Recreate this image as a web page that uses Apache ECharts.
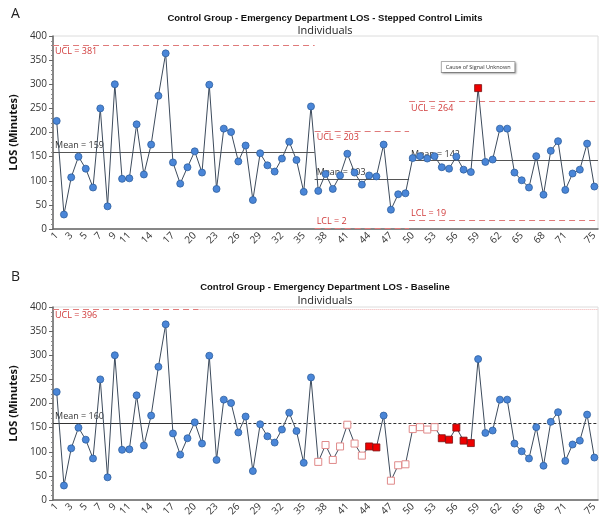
<!DOCTYPE html>
<html><head><meta charset="utf-8">
<script src="https://cdn.jsdelivr.net/npm/echarts@6/dist/echarts.min.js"></script>
<style>html,body{margin:0;padding:0;background:#fff}#c{width:600px;height:520px}</style>
</head><body><div id="c"></div>
<script>
// ---- data ----
const categories = Array.from({length:75},(_,i)=>String(i+1));
const losValues = [224,30,107,150,125,86,250,47,300,104,105,217,113,175,276,364,138,94,128,161,117,299,83,208,201,140,173,60,157,132,119,146,181,143,77,254,79,114,83,111,156,117,92,111,109,175,40,72,74,147,151,146,151,128,125,150,123,118,292,139,144,208,208,117,101,86,151,71,162,182,81,115,123,177,88];
const shownTickLabels = ['1','3','5','7','9','11','14','17','20','23','26','29','32','35','38','41','44','47','50','53','56','59','62','65','68','71','75'];
const yTicks = [0,50,100,150,200,250,300,350,400];
// Panel A stepped phases
const phaseStart = [1,37,50];
const phaseEnd = [36,49,75];
const phaseMean = [159,103,142];
const phaseUCL = [381,203,264];
const phaseLCL = [null,2,19];
const aSignalPoints = [59];
const aNote = 'Cause of Signal Unknown';
// Panel B baseline
const baseEnd = 20;
const baseMean = 160;
const baseUCL = 396;
const bHollowSignals = [37,38,39,40,41,42,43,47,48,49,50,51,52,53];
const bFilledSignals = [44,45,54,55,56,57,58];

// ---- styles ----
const BLUE = {color:'#4a86d8', borderColor:'#2f5f9e', borderWidth:0.8};
const RED = {color:'#ee0000', borderColor:'#7a1010', borderWidth:0.8};
const HOLLOW = {color:'#ffffff', borderColor:'#e08a8a', borderWidth:1};
const LIMIT = '#e07a7a', LIMTXT = '#d03a3a';

function pointData(panel){
  return losValues.map((v,i)=>{
    const n=i+1;
    if(panel==='A'){
      if(aSignalPoints.includes(n)) return {value:v, symbol:'rect', symbolSize:7, itemStyle:RED};
      return {value:v, symbol:'circle', symbolSize:7, itemStyle:BLUE};
    } else {
      if(bFilledSignals.includes(n)) return {value:v, symbol:'rect', symbolSize:7, itemStyle:RED};
      if(bHollowSignals.includes(n)) return {value:v, symbol:'rect', symbolSize:7, itemStyle:HOLLOW};
      return {value:v, symbol:'circle', symbolSize:7, itemStyle:BLUE};
    }
  });
}

function hline(x0,x1,y,color,type,label,pos){
  return [{coord:[x0,y], lineStyle:{color:color,type:type,width:1},
    label:label?{show:true,formatter:label,position:pos,color:(color===LIMIT||color==='#f0b0b0')?LIMTXT:'#333',fontSize:9,fontFamily:'Open Sans',distance:[2,2]}:{show:false}},
    {coord:[x1,y]}];
}

const aLines=[];
for(let k=0;k<phaseStart.length;k++){
  const x0=phaseStart[k]-0.5, x1=phaseEnd[k]+0.5;
  aLines.push(hline(x0,x1,phaseMean[k],'#555','solid','Mean = '+phaseMean[k],'insideStartTop'));
  aLines.push(hline(x0,x1,phaseUCL[k],LIMIT,[6,4],'UCL = '+phaseUCL[k],'insideStartBottom'));
  if(phaseLCL[k]!==null) aLines.push(hline(x0,x1,phaseLCL[k],LIMIT,[6,4],'LCL = '+phaseLCL[k],'insideStartTop'));
}
const bLines=[
  hline(0.5,baseEnd+0.5,baseMean,'#333','solid','Mean = '+baseMean,'insideStartTop'),
  hline(baseEnd+0.5,75.5,baseMean,'#333',[3,2],null),
  hline(0.5,baseEnd+0.5,baseUCL,LIMIT,[6,4],'UCL = '+baseUCL,'insideStartBottom'),
  hline(baseEnd+0.5,75.5,baseUCL,'#f0b0b0',[1,1],null)
];

const grids=[{left:42,right:2,top:36,height:193,show:true,borderColor:'#dcdcdc',borderWidth:1},
             {left:42,right:2,top:307,height:193,show:true,borderColor:'#dcdcdc',borderWidth:1}];

function catAxis(gi){
  return {type:'category',gridIndex:gi,data:categories,boundaryGap:true,
    axisLine:{lineStyle:{color:'#666',width:1.5}},
    axisTick:{alignWithLabel:true,length:3,lineStyle:{color:'#666'},interval:(i,v)=>shownTickLabels.includes(v)},
    axisLabel:{interval:(i,v)=>shownTickLabels.includes(v),rotate:45,fontSize:10,color:'#333',fontFamily:'Open Sans',margin:5}};
}
function valXAxis(gi){
  return {type:'value',gridIndex:gi,min:0.5,max:75.5,show:false};
}
function yAxis(gi){
  return {type:'value',gridIndex:gi,min:yTicks[0],max:yTicks[yTicks.length-1],interval:yTicks[1]-yTicks[0],
    name:'LOS (Minutes)',nameLocation:'middle',nameGap:25,nameTextStyle:{fontWeight:'bold',fontSize:11,color:'#111',fontFamily:'Open Sans'},
    axisLine:{show:true,lineStyle:{color:'#666',width:1.5}},
    axisTick:{show:true,length:4,lineStyle:{color:'#666'}},
    minorTick:{show:true,splitNumber:5,length:2,lineStyle:{color:'#888'}},
    splitLine:{show:false},
    axisLabel:{fontSize:10,color:'#333',fontFamily:'Open Sans',margin:6}};
}

const chart=echarts.init(document.getElementById('c'),null,{renderer:'canvas'});
chart.setOption({
  animation:false,
  title:[
    {text:'A',left:6,top:2,textStyle:{fontSize:14,fontWeight:'normal',color:'#222',fontFamily:'Open Sans'}},
    {text:'Control Group - Emergency Department LOS - Stepped Control Limits',left:320,textAlign:'center',top:8,
      textStyle:{fontSize:9.5,fontWeight:'bold',color:'#111',fontFamily:'Liberation Sans'}},
    {text:'Individuals',left:320,textAlign:'center',top:20,textStyle:{fontSize:11,fontWeight:'normal',color:'#222',fontFamily:'Open Sans'}},
    {text:'B',left:6,top:265,textStyle:{fontSize:14,fontWeight:'normal',color:'#222',fontFamily:'Open Sans'}},
    {text:'Control Group - Emergency Department LOS - Baseline',left:320,textAlign:'center',top:277,
      textStyle:{fontSize:9.5,fontWeight:'bold',color:'#111',fontFamily:'Liberation Sans'}},
    {text:'Individuals',left:320,textAlign:'center',top:290,textStyle:{fontSize:11,fontWeight:'normal',color:'#222',fontFamily:'Open Sans'}}
  ],
  grid:grids,
  xAxis:[catAxis(0),valXAxis(0),catAxis(1),valXAxis(1)],
  yAxis:[yAxis(0),yAxis(1)],
  series:[
    {type:'line',xAxisIndex:1,yAxisIndex:0,data:[],silent:true,
      markLine:{symbol:['none','none'],silent:true,animation:false,data:aLines}},
    {type:'line',xAxisIndex:3,yAxisIndex:1,data:[],silent:true,
      markLine:{symbol:['none','none'],silent:true,animation:false,data:bLines}},
    {type:'line',xAxisIndex:0,yAxisIndex:0,data:pointData('A'),showAllSymbol:true,lineStyle:{color:'#3d4b5c',width:1},z:5,
      markPoint:{symbol:'rect',symbolSize:0,data:[{coord:[String(aSignalPoints[0]),losValues[aSignalPoints[0]-1]],
        label:{show:true,formatter:aNote,offset:[0,-21],fontSize:5.5,color:'#333',fontFamily:'Open Sans',
          backgroundColor:'#fff',borderColor:'#999',borderWidth:0.8,padding:[2,4],
          shadowColor:'rgba(0,0,0,0.25)',shadowBlur:2,shadowOffsetX:1,shadowOffsetY:1}}]}},
    {type:'line',xAxisIndex:2,yAxisIndex:1,data:pointData('B'),showAllSymbol:true,lineStyle:{color:'#3d4b5c',width:1},z:5}
  ]
});
</script></body></html>
